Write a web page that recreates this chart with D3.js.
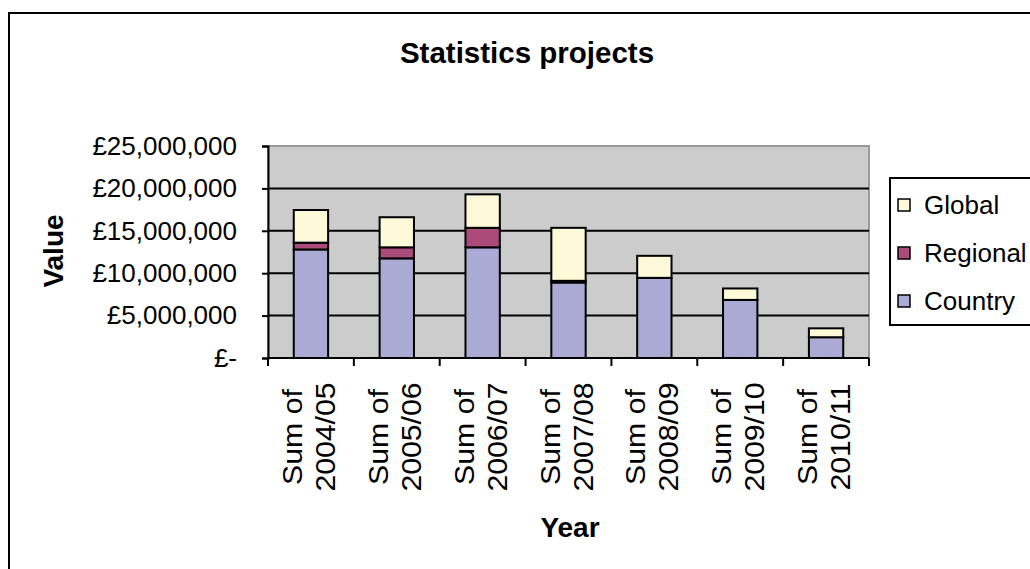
<!DOCTYPE html>
<html>
<head>
<meta charset="utf-8">
<script src="https://cdn.jsdelivr.net/npm/d3@7"></script>
<style>
  html, body { margin: 0; padding: 0; background: #ffffff; }
  svg { display: block; font-family: "Liberation Sans", Arial, sans-serif; }
</style>
</head>
<body>
<svg id="chart" width="1030" height="569"></svg>
<script>
// Financial years on the category axis
const categories = ["Sum of 2004/05", "Sum of 2005/06", "Sum of 2006/07", "Sum of 2007/08",
                    "Sum of 2008/09", "Sum of 2009/10", "Sum of 2010/11"];
// Project value per level (GBP)
const country  = [12800000, 11750000, 13050000, 8900000, 9450000, 6850000, 2450000];
const regional = [  800000,  1300000,  2300000,  200000,       0,       0,       0];
const global   = [ 3850000,  3550000,  3950000, 6250000, 2600000, 1350000, 1050000];
// Series names (stack order bottom to top) and legend order
const seriesNames = ["Country", "Regional", "Global"];
const legendOrder = ["Global", "Regional", "Country"];
const yTicks = [0, 5000000, 10000000, 15000000, 20000000, 25000000];

const colors = { Country: "#aaaad4", Regional: "#ab4b79", Global: "#fdf9d9" };

const rows = categories.map((c, i) => ({
  category: c, Country: country[i], Regional: regional[i], Global: global[i]
}));

const svg = d3.select("#chart");
const font = '"Liberation Sans", Arial, sans-serif';

// Chart frame
svg.append("rect")
  .attr("x", 9).attr("y", 13).attr("width", 1040).attr("height", 580)
  .attr("fill", "#ffffff").attr("stroke", "#000").attr("stroke-width", 2);

const plot = { left: 268, right: 869, top: 146, bottom: 358 };

const x = d3.scaleBand().domain(categories)
  .range([plot.left, plot.right]).paddingInner(0.6).paddingOuter(0.3);
const y = d3.scaleLinear().domain([0, 25000000]).range([plot.bottom, plot.top]);

// Plot area
svg.append("rect")
  .attr("x", plot.left).attr("y", plot.top)
  .attr("width", plot.right - plot.left).attr("height", plot.bottom - plot.top)
  .attr("fill", "#cccccc").attr("stroke", "#9a9a9a").attr("stroke-width", 2);

// Gridlines
svg.append("g").selectAll("line")
  .data(yTicks.filter(v => v > 0 && v < 25000000))
  .join("line")
  .attr("x1", plot.left).attr("x2", plot.right)
  .attr("y1", d => y(d)).attr("y2", d => y(d))
  .attr("stroke", "#000").attr("stroke-width", 2);

// Stacked bars
const stack = d3.stack().keys(seriesNames)(rows);
svg.append("g").selectAll("g")
  .data(stack)
  .join("g")
  .attr("fill", d => colors[d.key])
  .selectAll("rect")
  .data(d => d.filter(p => p[1] - p[0] > 0))
  .join("rect")
  .attr("x", d => x(d.data.category))
  .attr("width", x.bandwidth())
  .attr("y", d => y(d[1]))
  .attr("height", d => y(d[0]) - y(d[1]))
  .attr("stroke", "#000").attr("stroke-width", 2);

// Y axis
const fmt = v => v === 0 ? "£-" : "£" + d3.format(",")(v);
const yAxis = svg.append("g")
  .attr("transform", `translate(${plot.left},0)`)
  .call(d3.axisLeft(y).tickValues(yTicks).tickFormat(fmt).tickSize(6).tickPadding(25));
yAxis.select(".domain").attr("stroke", "#000").attr("stroke-width", 2);
yAxis.selectAll(".tick line").attr("stroke", "#000").attr("stroke-width", 2);
yAxis.selectAll(".tick text")
  .attr("font-family", font).attr("font-size", 26).attr("fill", "#000");

// X axis line and boundary ticks
const step = x.step();
const bounds = categories.map(c => x(c) - step * 0.3).concat([plot.right]);
svg.append("line")
  .attr("x1", plot.left).attr("x2", plot.right)
  .attr("y1", plot.bottom).attr("y2", plot.bottom)
  .attr("stroke", "#000").attr("stroke-width", 2);
svg.append("g").selectAll("line")
  .data(bounds).join("line")
  .attr("x1", d => d).attr("x2", d => d)
  .attr("y1", plot.bottom).attr("y2", plot.bottom + 8)
  .attr("stroke", "#000").attr("stroke-width", 2);

// Category labels, rotated, two lines each
const labelG = svg.append("g").selectAll("g")
  .data(categories).join("g")
  .attr("transform", d => `translate(${x(d) + x.bandwidth() / 2},437) rotate(-90) scale(1.08,1)`);
labelG.each(function (d) {
  const k = d.lastIndexOf(" ");
  const lines = [d.slice(0, k), d.slice(k + 1)];
  d3.select(this).selectAll("text").data(lines).join("text")
    .attr("x", 0).attr("y", (l, i) => i === 0 ? -9 : 24)
    .attr("text-anchor", "middle")
    .attr("font-family", font).attr("font-size", 28).attr("fill", "#000")
    .text(l => l);
});

// Titles
svg.append("text")
  .attr("x", 527).attr("y", 63).attr("text-anchor", "middle")
  .attr("font-family", font).attr("font-size", 29.5).attr("font-weight", "bold")
  .text("Statistics projects");
svg.append("text")
  .attr("x", 570).attr("y", 537).attr("text-anchor", "middle")
  .attr("font-family", font).attr("font-size", 28).attr("font-weight", "bold")
  .text("Year");
svg.append("text")
  .attr("transform", "translate(63,251) rotate(-90)").attr("text-anchor", "middle")
  .attr("font-family", font).attr("font-size", 28).attr("font-weight", "bold")
  .text("Value");

// Legend
const legend = svg.append("g");
legend.append("rect")
  .attr("x", 890).attr("y", 178).attr("width", 160).attr("height", 147)
  .attr("fill", "#ffffff").attr("stroke", "#000").attr("stroke-width", 2);
const items = legend.selectAll("g.item").data(legendOrder).join("g")
  .attr("class", "item")
  .attr("transform", (d, i) => `translate(0,${205 + i * 48})`);
items.append("rect")
  .attr("x", 898).attr("y", -6).attr("width", 12).attr("height", 12)
  .attr("fill", d => colors[d]).attr("stroke", "#000").attr("stroke-width", 1.5);
items.append("text")
  .attr("x", 924).attr("y", 0).attr("dy", "0.35em")
  .attr("font-family", font).attr("font-size", 26).attr("fill", "#000")
  .text(d => d);
</script>
</body>
</html>
